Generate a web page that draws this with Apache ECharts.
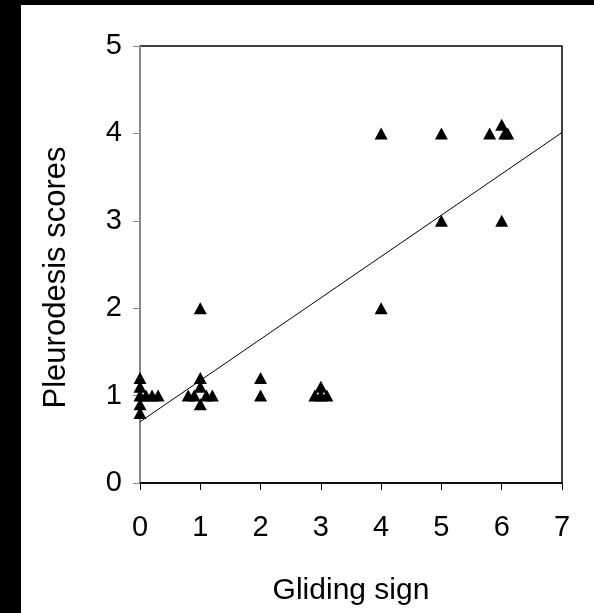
<!DOCTYPE html>
<html><head><meta charset="utf-8">
<style>html,body{margin:0;padding:0;background:#fff;}#c{width:594px;height:613px;}</style>
<script src="https://cdn.jsdelivr.net/npm/echarts@6/dist/echarts.min.js"></script>
</head><body><div id="c"></div>
<script>
const glidingSign = [0,0,0,0,0,0.1,0.2,0.3, 0.8,0.9,1,1,1,1,1.1,1.2, 2,2, 2.9,3,3,3.1, 4,4, 5,5, 5.8,6,6,6.05,6.1];
const pleuroScore = [1.2,1.1,1,0.9,0.8,1,1,1, 1,1,2,1.2,1.1,0.9,1,1, 1.2,1, 1,1,1.1,1, 4,2, 4,3, 4,4.1,3,4,4];
const fitX = [0, 7];
const fitY = [0.70, 4.01];
const xTicks = [0,1,2,3,4,5,6,7];
const yTicks = [0,1,2,3,4,5];

const chart = echarts.init(document.getElementById('c'), null, {renderer:'canvas'});
const font = 'Liberation Sans, Arial, sans-serif';
chart.setOption({
  backgroundColor:'#fff',
  animation:false,
  graphic:[
    {type:'rect', left:0, top:0, shape:{width:21,height:613}, style:{fill:'#000'}},
    {type:'rect', left:0, top:0, shape:{width:594,height:5}, style:{fill:'#000'}}
  ],
  grid:{left:140, top:46, right:32, bottom:130, show:true, borderColor:'#000', borderWidth:1.5, backgroundColor:'#fff'},
  xAxis:{type:'value', min:xTicks[0], max:xTicks[xTicks.length-1], interval:1,
    name:'Gliding sign', nameLocation:'middle', nameGap:93,
    nameTextStyle:{fontFamily:font, fontSize:30, color:'#000'},
    axisLine:{show:true, onZero:false, lineStyle:{color:'#000', width:1.5}},
    axisTick:{show:true, inside:false, length:7, lineStyle:{color:'#000'}},
    axisLabel:{fontFamily:font, fontSize:29, color:'#000', margin:30},
    splitLine:{show:false}},
  yAxis:{type:'value', min:yTicks[0], max:yTicks[yTicks.length-1], interval:1,
    name:'Pleurodesis scores', nameLocation:'middle', nameGap:68,
    nameTextStyle:{fontFamily:font, fontSize:31, color:'#000', padding:[0,26,0,0]},
    axisLine:{show:true, onZero:false, lineStyle:{color:'#888', width:2}},
    axisTick:{show:true, inside:false, length:7, lineStyle:{color:'#888'}},
    axisLabel:{fontFamily:font, fontSize:29, color:'#000', margin:18},
    splitLine:{show:false}},
  series:[
    {type:'line', data:fitX.map((x,i)=>[x,fitY[i]]), symbol:'none', lineStyle:{color:'#000', width:1}, z:2},
    {type:'scatter', data:glidingSign.map((x,i)=>[x,pleuroScore[i]]), symbol:'triangle', symbolSize:[13,12],
     itemStyle:{color:'#000', opacity:1}, z:3}
  ]
});
</script></body></html>
